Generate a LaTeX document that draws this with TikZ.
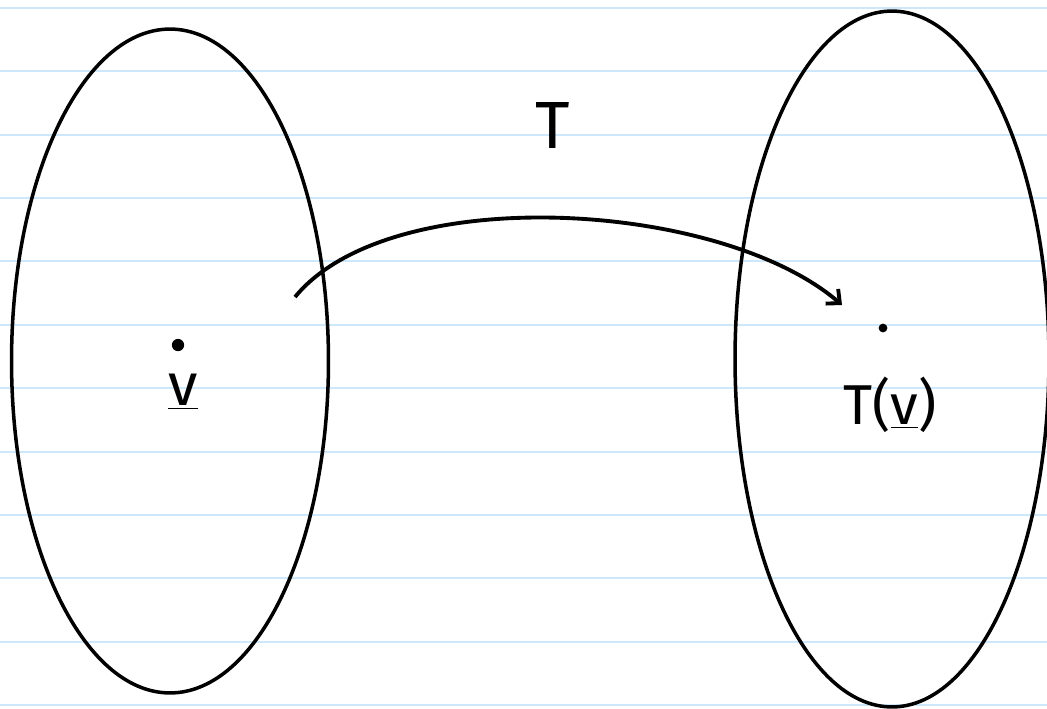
\documentclass[tikz,border=0pt]{standalone}
\usepackage{fontspec}
\setmainfont{Fira Sans}
\usetikzlibrary{shapes.geometric, arrows.meta}

\definecolor{ruleblue}{RGB}{204,232,250}

\tikzset{
  setshape/.style={ellipse, draw=black, line width=2pt, inner sep=0pt},
  pointdot/.style={circle, fill=black, inner sep=0pt, minimum size=#1},
  handlabel/.style={font=\fontsize{#1}{#1}\selectfont, inner sep=0pt},
}

\begin{document}
\begin{tikzpicture}[x=0.02cm, y=-0.02cm]

% Hoja rayada
\useasboundingbox (0,0) rectangle (1047,708);
\foreach \k in {0,...,11} {
    \draw[ruleblue, line width=1.1pt] (0,{8+63.36*\k}) -- (1047,{8+63.36*\k});
}

% Conjuntos (dominio y codominio)
\node[setshape, minimum width=6.34cm, minimum height=13.28cm] (dom) at (170,361) {};
\node[setshape, minimum width=6.28cm, minimum height=13.92cm] (cod) at (892,359) {};

% Puntos y etiquetas
\node[pointdot=7pt] (u) at (178,345) {};
\node[handlabel=34] (ulab) at (183,392) {\underline{v}};
\node[pointdot=5pt] (tu) at (883,328) {};
\node[handlabel=32] (tulab) at (890,405) {T(\underline{v})};

% Aplicación T
\coordinate (from) at (295,297);
\coordinate (to) at (842,305);
\draw[line width=2.2pt, -{Straight Barb[length=6pt, width=11pt]}]
    (from) .. controls (390,181) and (720,200) .. (to);
\node[handlabel=38] (tmap) at (553,125) {T};

\end{tikzpicture}
\end{document}
